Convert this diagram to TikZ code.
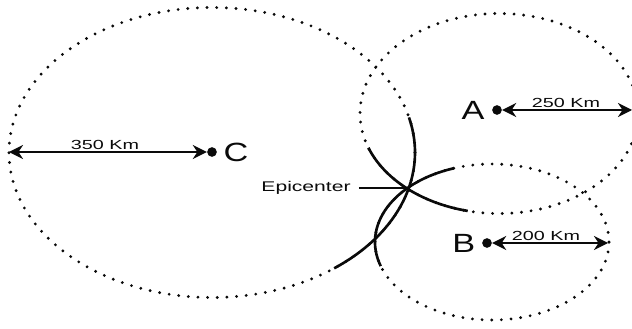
\documentclass[tikz,border=0pt]{standalone}
\usepackage{fontspec}
\setmainfont{Liberation Sans}
\usepackage{graphicx}
\usetikzlibrary{arrows.meta,positioning}
\definecolor{ink}{RGB}{10,10,10}
\newcommand{\stretchtxt}[2][1.5]{\scalebox{#1}[1]{#2}}
\tikzset{
  % Dotted range ellipse
  Orb/.style={draw=ink,line width=1.8pt,dash pattern=on 0pt off 5.5pt,
              line cap=round},
  % Solid part of a range near the epicenter
  Cut/.style={draw=ink,line width=1.5pt},
  % Station dot
  Dot/.style={circle,fill=ink,inner sep=0pt,minimum size=5.5pt},
  % Station letter
  Stn/.style={font=\fontsize{15}{15}\selectfont,inner sep=0pt,text=ink},
  % Distance label
  Km/.style={font=\fontsize{7.5}{8}\selectfont,inner sep=0.5pt,text=ink},
  % Radius arrow
  Arr/.style={{Stealth[length=8pt,width=8pt]}-{Stealth[length=8pt,width=8pt]},
              line width=1.1pt,color=ink},
}
\begin{document}
\begin{tikzpicture}[x=0.02cm,y=0.02cm]
  \useasboundingbox (0,0) rectangle (632,328);
  % range centres
  \coordinate (oc) at (212,175.5);
  \coordinate (oa) at (499,214.5);
  \coordinate (ob) at (492,86);
  \draw[Orb] (oc) ellipse [x radius=203,y radius=145];
  \draw[Orb] (oa) ellipse [x radius=139,y radius=100];
  \draw[Orb] (ob) ellipse [x radius=117,y radius=78];
  \draw[Cut] (oc) ++(-53:203 and 145)
        arc[start angle=-53,end angle=14,x radius=203,y radius=145];
  \draw[Cut] (oa) ++(200:139 and 100)
        arc[start angle=200,end angle=257,x radius=139,y radius=100];
  \draw[Cut] (ob) ++(109:117 and 78)
        arc[start angle=109,end angle=198,x radius=117,y radius=78];
  % stations
  \node[Dot] at (212,176) (dc) {};
  \node[Stn,right=3.5pt of dc] (lc) {\stretchtxt[1.3]{C}};
  \node[Dot] at (497,218) (da) {};
  \node[Stn,left=4pt of da] (la) {\stretchtxt[1.3]{A}};
  \node[Dot] at (487,85) (db) {};
  \node[Stn,left=3.5pt of db] (lb) {\stretchtxt[1.3]{B}};
  \coordinate (ce) at (9,176);
  \coordinate (ae) at (632,218);
  \coordinate (be) at (608,85);
  \draw[Arr] (ce) -- (dc);
  \draw[Arr] (da) -- (ae);
  \draw[Arr] (db) -- (be);
  \node[Km,anchor=south] at (105,177) (kc) {\stretchtxt{350 Km}};
  \node[Km,anchor=south] at (566,219) (ka) {\stretchtxt{250 Km}};
  \node[Km,anchor=south] at (546,86) (kb) {\stretchtxt{200 Km}};
  % epicenter
  \coordinate (epi) at (407,140);
  \node[Km,font=\fontsize{8}{9}\selectfont] at (306,140) (elab)
        {\stretchtxt{Epicenter}};
  \draw[ink,line width=0.9pt,shorten <=4pt,shorten >=1pt] (elab.east) -- (epi);
\end{tikzpicture}
\end{document}
